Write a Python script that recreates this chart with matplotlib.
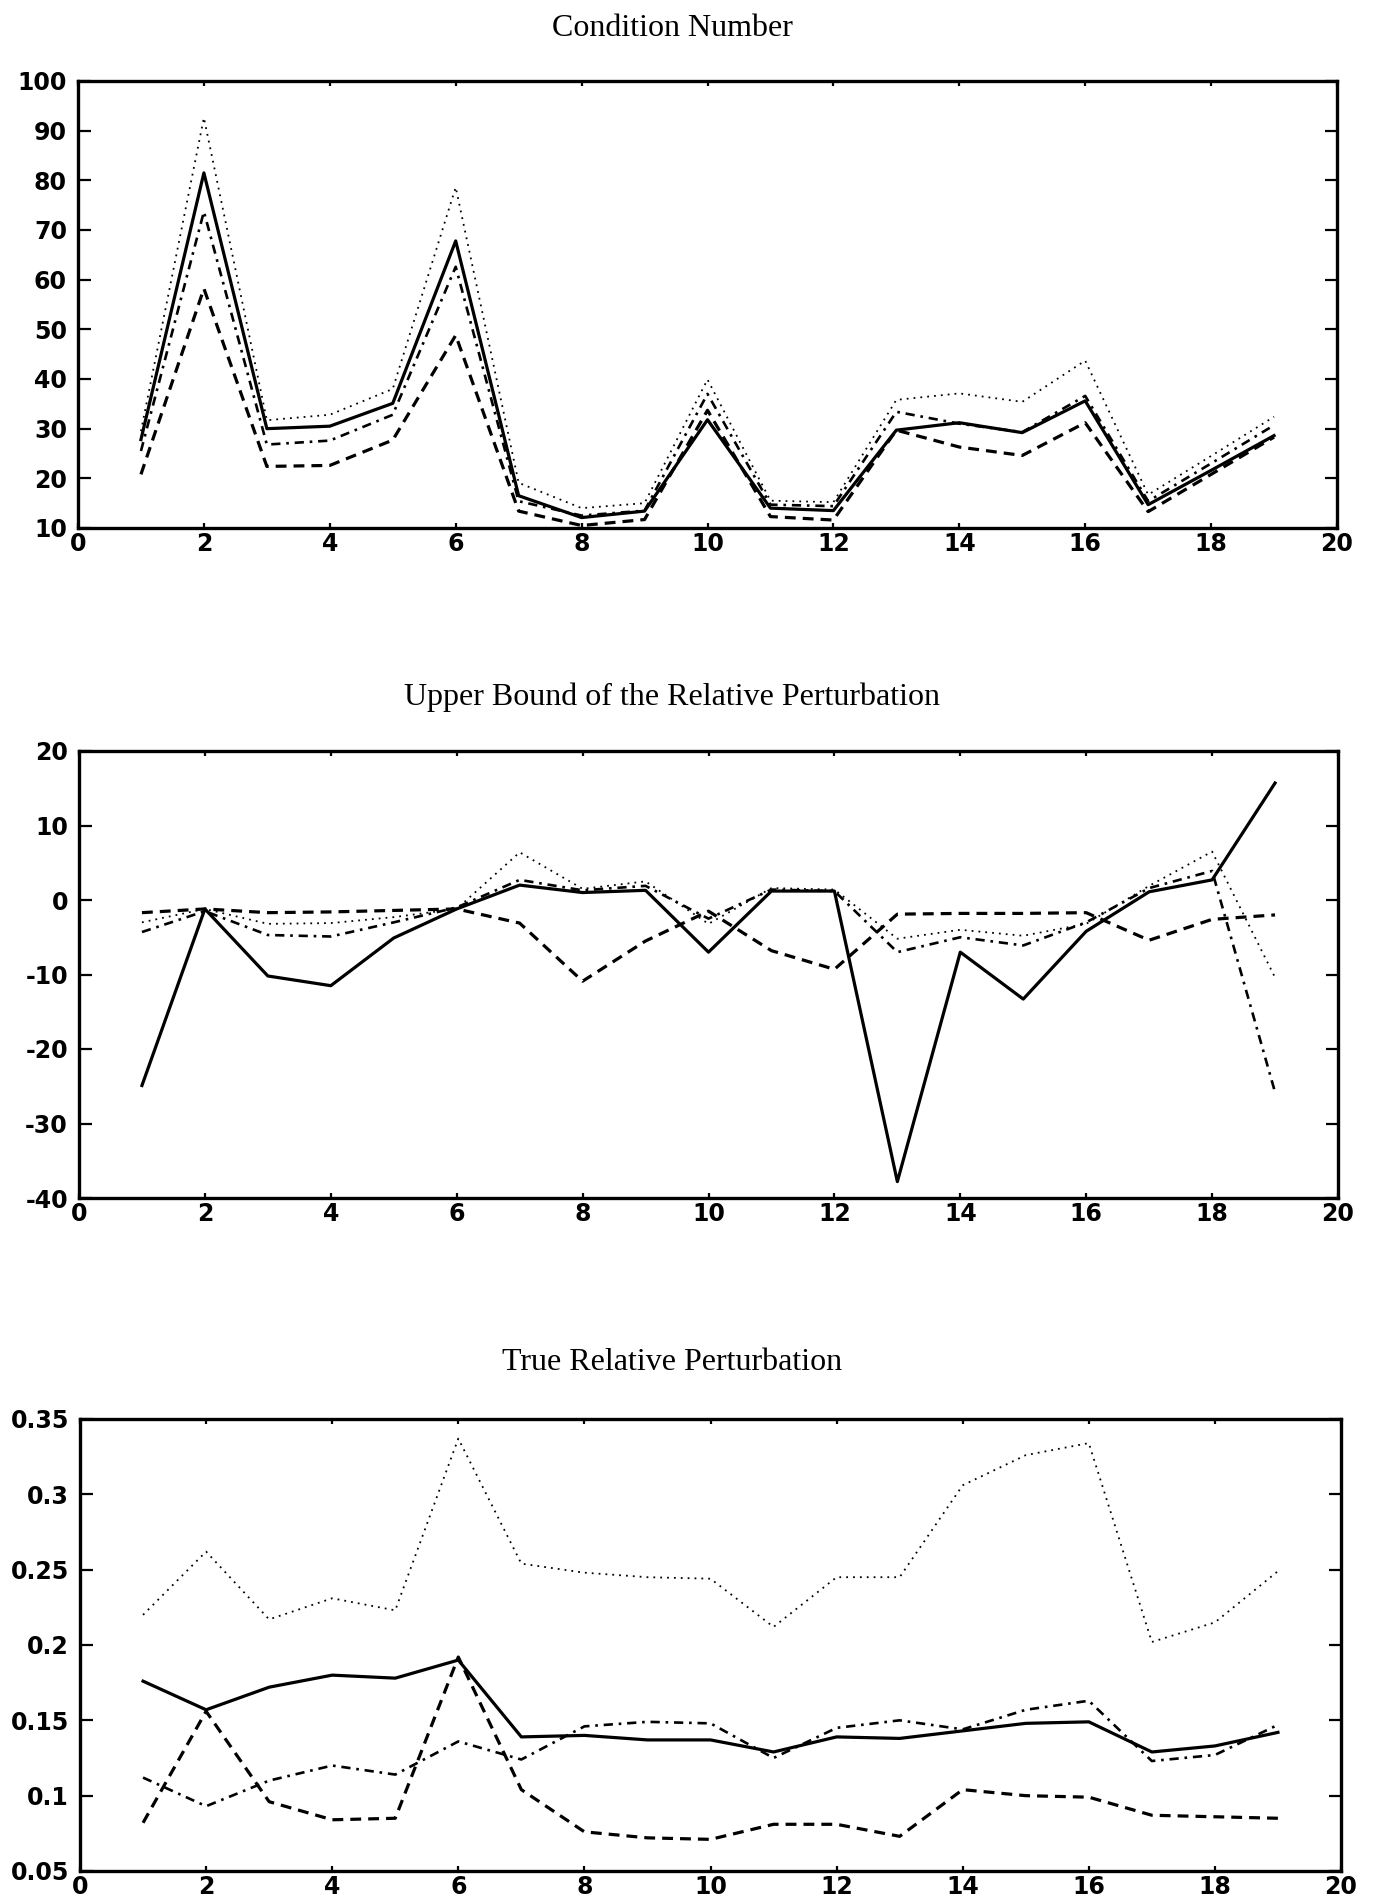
import numpy as np
import matplotlib
matplotlib.use("Agg")
import matplotlib.pyplot as plt

plt.rcParams["axes.unicode_minus"] = False

# Test case index 1..19
cases = list(range(1, 20))

# Condition number, one series per method
cond_solid = [27.8, 81.5, 30.0, 30.5, 35.1, 67.8, 16.5, 12.1, 13.4, 31.8,
              14.0, 13.5, 29.7, 31.2, 29.2, 35.6, 14.7, 21.6, 28.6]
cond_dotted = [29.5, 92.6, 31.7, 32.8, 38.0, 78.6, 19.1, 14.0, 15.0, 39.9,
               15.5, 15.2, 35.8, 37.1, 35.4, 43.7, 16.7, 24.5, 32.4]
cond_dashdot = [25.5, 73.7, 26.8, 27.6, 32.8, 62.6, 15.4, 12.5, 13.5, 37.0,
                14.7, 14.4, 33.4, 31.0, 29.3, 36.6, 15.4, 23.0, 30.7]
cond_dashed = [20.8, 58.2, 22.4, 22.6, 27.7, 48.8, 13.4, 10.5, 11.7, 33.7,
               12.3, 11.6, 29.7, 26.3, 24.6, 31.2, 13.3, 20.8, 28.3]

# Upper bound of the relative perturbation
ub_solid = [-24.9, -1.2, -10.2, -11.5, -5.1, -1.2, 2.0, 1.0, 1.3, -7.0,
            1.2, 1.2, -37.8, -7.0, -13.3, -4.2, 1.1, 2.7, 15.7]
ub_dashed = [-1.7, -1.2, -1.7, -1.6, -1.4, -1.2, -3.1, -10.9, -5.5, -1.5,
             -6.8, -9.3, -1.9, -1.8, -1.8, -1.7, -5.4, -2.6, -2.0]
ub_dotted = [-3.0, -1.2, -3.2, -3.1, -2.3, -1.2, 6.4, 1.5, 2.5, -3.2,
             1.6, 1.4, -5.2, -4.0, -4.8, -3.2, 1.9, 6.5, -10.4]
ub_dashdot = [-4.3, -1.5, -4.7, -4.9, -3.0, -1.0, 2.7, 1.3, 1.9, -2.5,
              1.4, 1.2, -7.0, -5.0, -6.1, -3.0, 1.6, 3.9, -25.8]

# True relative perturbation
tr_dotted = [0.220, 0.262, 0.217, 0.231, 0.223, 0.337, 0.254, 0.248, 0.245, 0.244,
             0.212, 0.245, 0.245, 0.306, 0.326, 0.334, 0.202, 0.215, 0.249]
tr_solid = [0.176, 0.157, 0.172, 0.180, 0.178, 0.190, 0.139, 0.140, 0.137, 0.137,
            0.129, 0.139, 0.138, 0.143, 0.148, 0.149, 0.129, 0.133, 0.142]
tr_dashed = [0.082, 0.156, 0.096, 0.084, 0.085, 0.192, 0.104, 0.076, 0.072, 0.071,
             0.081, 0.081, 0.073, 0.104, 0.100, 0.099, 0.087, 0.086, 0.085]
tr_dashdot = [0.112, 0.093, 0.110, 0.120, 0.114, 0.136, 0.124, 0.146, 0.149, 0.148,
              0.125, 0.145, 0.150, 0.144, 0.157, 0.163, 0.123, 0.127, 0.147]

x_ticks = list(range(0, 21, 2))
cond_ticks = list(range(10, 101, 10))
ub_ticks = list(range(-40, 21, 10))
tr_ticks = [0.05, 0.1, 0.15, 0.2, 0.25, 0.3, 0.35]
tr_tick_labels = ["0.05", "0.1", "0.15", "0.2", "0.25", "0.3", "0.35"]

titles = ["Condition Number",
          "Upper Bound of the Relative Perturbation",
          "True Relative Perturbation"]

W, H = 1381, 1898
fig = plt.figure(figsize=(W / 100, H / 100), dpi=100)
fig.patch.set_facecolor("white")

tick_font = dict(family="DejaVu Sans", weight="bold", size=17)

styles = {
    "solid": dict(color="black", lw=2.3, linestyle="-"),
    "dashed": dict(color="black", lw=2.3, linestyle=(0, (3.4, 2.2))),
    "dotted": dict(color="black", lw=1.3, linestyle=(0, (1.0, 2.8))),
    "dashdot": dict(color="black", lw=1.9, linestyle=(0, (3.5, 2.2, 1.0, 2.2))),
}


def px_axes(left, top, right, bottom):
    return fig.add_axes([left / W, 1 - bottom / H, (right - left) / W, (bottom - top) / H])


def style_axes(ax, ylim, yticks, ylabels=None):
    ax.set_xlim(0, 20)
    ax.set_ylim(*ylim)
    ax.set_xticks(x_ticks)
    ax.set_yticks(yticks)
    if ylabels is not None:
        ax.set_yticklabels(ylabels)
    for sp in ax.spines.values():
        sp.set_linewidth(2.4)
        sp.set_color("black")
    ax.tick_params(axis="x", which="major", direction="in", length=3.5, width=1.6,
                   top=True, bottom=True, pad=3.0)
    ax.tick_params(axis="y", which="major", direction="in", length=9, width=1.6,
                   left=True, right=True, pad=8)
    for lab in ax.get_xticklabels() + ax.get_yticklabels():
        lab.set_fontfamily(tick_font["family"])
        lab.set_fontweight(tick_font["weight"])
        lab.set_fontsize(tick_font["size"])


# Panel 1: condition number
ax1 = px_axes(78, 81, 1337, 528)
ax1.plot(cases, cond_dotted, **styles["dotted"])
ax1.plot(cases, cond_dashdot, **styles["dashdot"])
ax1.plot(cases, cond_dashed, **styles["dashed"])
ax1.plot(cases, cond_solid, **styles["solid"])
style_axes(ax1, (10, 100), cond_ticks)

# Panel 2: upper bound of the relative perturbation
ax2 = px_axes(79, 751, 1338, 1198)
ax2.plot(cases, ub_dotted, **styles["dotted"])
ax2.plot(cases, ub_dashdot, **styles["dashdot"])
ax2.plot(cases, ub_dashed, **styles["dashed"])
ax2.plot(cases, ub_solid, **styles["solid"])
style_axes(ax2, (-40, 20), ub_ticks)

# Panel 3: true relative perturbation
ax3 = px_axes(80, 1419, 1341, 1871)
ax3.plot(cases, tr_dotted, **styles["dotted"])
ax3.plot(cases, tr_dashdot, **styles["dashdot"])
ax3.plot(cases, tr_dashed, **styles["dashed"])
ax3.plot(cases, tr_solid, **styles["solid"])
style_axes(ax3, (0.05, 0.35), tr_ticks, tr_tick_labels)

# Panel titles
for title, y in zip(titles, [28, 697, 1362]):
    fig.text(672 / W, 1 - y / H, title, ha="center", va="center",
             family="Liberation Serif", fontsize=23)

fig.savefig("out.png", dpi=100, facecolor="white")
